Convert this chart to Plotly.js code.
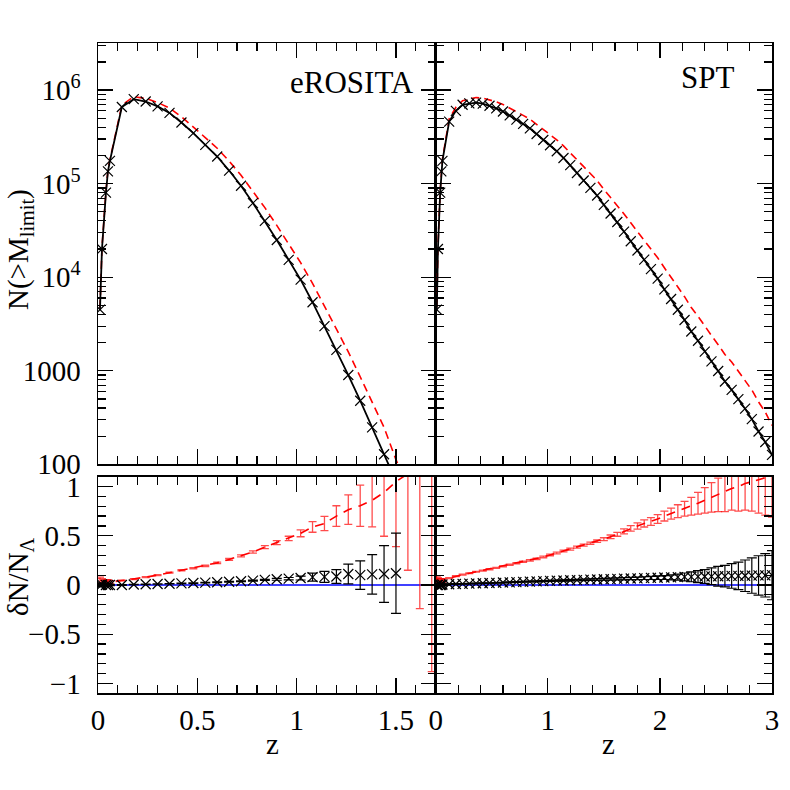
<!DOCTYPE html>
<html>
<head>
<meta charset="utf-8">
<script src="https://cdn.plot.ly/plotly-3.0.1.min.js"></script>
<style>
  body { margin: 0; background: #fff; }
  #graph { width: 790px; height: 790px; }
</style>
</head>
<body>
<div id="graph"></div>
<script>
// eROSITA: cumulative counts per z bin (black = fiducial, red dashed = alternative)
const zEro = [0.01,0.02,0.04,0.05,0.06,0.12,0.18,0.24,0.30,0.36,0.42,0.48,0.54,0.60,0.66,0.72,0.78,0.84,0.90,0.96,1.02,1.08,1.14,1.20,1.26,1.32,1.38,1.44,1.50];
const nEroFid = [4.5e3,2.0e4,8.0e4,1.35e5,1.75e5,6.6e5,8.0e5,7.55e5,6.7e5,5.7e5,4.5e5,3.47e5,2.6e5,1.95e5,1.38e5,9.5e4,6.2e4,4.0e4,2.5e4,1.53e4,9.4e3,5.4e3,3.0e3,1.67e3,900,478,248,128,66];
const zEroAlt = [0.01,0.02,0.04,0.05,0.06,0.12,0.18,0.24,0.30,0.36,0.42,0.48,0.54,0.60,0.66,0.72,0.78,0.84,0.90,0.96,1.02,1.08,1.14,1.20,1.26,1.32,1.38,1.44,1.50,1.56];
const nEroAlt = [4.7e3,2.08e4,8.3e4,1.4e5,1.8e5,6.9e5,8.5e5,8.15e5,7.37e5,6.41e5,5.18e5,4.06e5,3.11e5,2.39e5,1.74e5,1.23e5,8.28e4,5.54e4,3.58e4,2.25e4,1.43e4,8.6e3,4.9e3,2.84e3,1.59e3,863,461,248,112,58];

// eROSITA: relative difference dN/N_Lambda
const dEroFid = [0.0,0.005,0.0,0.0,0.0,0.0,0.005,0.008,0.01,0.013,0.016,0.02,0.024,0.028,0.033,0.038,0.045,0.052,0.058,0.064,0.071,0.08,0.083,0.086,0.112,0.10,0.108,0.112,0.119];
const eEroFid = [0.02,0.015,0.01,0.008,0.006,0.003,0.002,0.002,0.002,0.002,0.003,0.003,0.003,0.004,0.004,0.005,0.005,0.006,0.01,0.012,0.02,0.04,0.056,0.07,0.10,0.145,0.2,0.288,0.407];
const zEroRel = [0.01,0.02,0.04,0.05,0.06,0.12,0.18,0.24,0.30,0.36,0.42,0.48,0.54,0.60,0.66,0.72,0.78,0.84,0.90,0.96,1.02,1.08,1.14,1.20,1.26,1.32,1.38,1.44,1.50,1.56,1.62,1.68];
const dEroAlt = [0.05,0.04,0.035,0.035,0.03,0.045,0.06,0.08,0.10,0.125,0.15,0.17,0.195,0.225,0.26,0.295,0.335,0.385,0.43,0.473,0.525,0.59,0.625,0.70,0.765,0.805,0.86,0.94,1.05,1.13,1.22,1.32];
const eEroAlt = [0.03,0.025,0.02,0.02,0.015,0.004,0.004,0.004,0.005,0.005,0.006,0.006,0.007,0.008,0.009,0.01,0.012,0.015,0.02,0.022,0.035,0.054,0.073,0.105,0.15,0.21,0.27,0.445,0.66,0.98,1.46,2.2];

// SPT
const zSpt = [0.01,0.02,0.04,0.05,0.06,0.12,0.18,0.24,0.30,0.36,0.42,0.48,0.54,0.60,0.66,0.72,0.78,0.84,0.90,0.96,1.02,1.08,1.14,1.20,1.26,1.32,1.38,1.44,1.50,1.56,1.62,1.68,1.74,1.80,1.86,1.92,1.98,2.04,2.10,2.16,2.22,2.28,2.34,2.40,2.46,2.52,2.58,2.64,2.70,2.76,2.82,2.88,2.94,3.00];
const nSptFid = [4.5e3,2.0e4,8.0e4,1.35e5,1.75e5,4.6e5,6.0e5,6.97e5,7.2e5,7.35e5,7.16e5,6.8e5,6.38e5,5.9e5,5.36e5,4.84e5,4.35e5,3.9e5,3.39e5,2.93e5,2.57e5,2.22e5,1.88e5,1.58e5,1.30e5,1.08e5,9.0e4,7.46e4,5.93e4,4.79e4,3.89e4,3.07e4,2.42e4,1.93e4,1.54e4,1.22e4,9.66e3,7.4e3,5.85e3,4.49e3,3.49e3,2.63e3,2.09e3,1.60e3,1.26e3,993,767,624,497,393,304,224,173,126];
const nSptAlt = [4.77e3,2.1e4,8.36e4,1.41e5,1.83e5,4.92e5,6.54e5,7.7e5,8.06e5,8.34e5,8.2e5,7.89e5,7.5e5,7.02e5,6.46e5,5.9e5,5.37e5,4.88e5,4.29e5,3.77e5,3.35e5,2.94e5,2.53e5,2.16e5,1.80e5,1.52e5,1.28e5,1.08e5,8.69e4,7.14e4,5.89e4,4.74e4,3.81e4,3.09e4,2.5e4,2.01e4,1.61e4,1.26e4,1.01e4,7.86e3,6.19e3,4.73e3,3.82e3,2.98e3,2.38e3,1.90e3,1.49e3,1.24e3,994,798,623,464,362,260];
const dSptFid = [0.0,0.0,0.0,0.0,0.005,0.008,0.01,0.012,0.014,0.016,0.018,0.02,0.022,0.025,0.027,0.03,0.032,0.035,0.037,0.04,0.042,0.044,0.046,0.048,0.05,0.052,0.054,0.056,0.058,0.06,0.062,0.064,0.066,0.068,0.07,0.072,0.074,0.076,0.078,0.08,0.082,0.083,0.085,0.086,0.088,0.089,0.09,0.092,0.093,0.094,0.096,0.097,0.098,0.10];
const eSptFid = [0.02,0.015,0.01,0.008,0.006,0.003,0.003,0.003,0.003,0.003,0.003,0.003,0.003,0.003,0.004,0.004,0.004,0.004,0.005,0.005,0.005,0.006,0.006,0.006,0.007,0.007,0.008,0.008,0.009,0.01,0.01,0.011,0.012,0.013,0.014,0.016,0.018,0.02,0.025,0.03,0.04,0.05,0.06,0.07,0.085,0.10,0.11,0.125,0.14,0.16,0.18,0.2,0.22,0.25];
const dSptAlt = [0.06,0.05,0.045,0.045,0.045,0.07,0.09,0.105,0.12,0.135,0.145,0.16,0.175,0.19,0.205,0.22,0.235,0.25,0.265,0.285,0.305,0.325,0.345,0.365,0.385,0.405,0.425,0.445,0.465,0.49,0.515,0.545,0.575,0.60,0.625,0.645,0.67,0.70,0.725,0.75,0.775,0.80,0.83,0.86,0.89,0.915,0.945,0.98,1.0,1.03,1.05,1.07,1.09,1.12];
const eSptAlt = [0.03,0.025,0.02,0.02,0.015,0.004,0.004,0.004,0.004,0.004,0.005,0.005,0.005,0.005,0.006,0.006,0.006,0.007,0.007,0.008,0.008,0.009,0.009,0.01,0.01,0.011,0.011,0.012,0.015,0.018,0.02,0.025,0.028,0.032,0.036,0.04,0.045,0.05,0.055,0.065,0.075,0.09,0.11,0.13,0.15,0.17,0.2,0.22,0.25,0.27,0.3,0.34,0.38,0.43];

// reference line dN = 0
const zLineEro = [0, 1.7];
const zLineSpt = [0, 3];
const dLine = [0, 0];

// axis ticks
const logTicks = [100, 1000, 1e4, 1e5, 1e6];
const logLabels = ['100', '1000', '10<sup>4</sup>', '10<sup>5</sup>', '10<sup>6</sup>'];
const relTicks = [-1, -0.5, 0, 0.5, 1];
const relLabels = ['\u22121', '\u22120.5', '0', '0.5', '1'];
const zTicksEro = [0, 0.5, 1, 1.5];
const zTicksSpt = [0, 1, 2, 3];

const font = { family: 'Liberation Serif', size: 29, color: 'black' };
const black = 'black', red = '#ff0000', blue = '#0000ff';

function axis(extra) {
    return Object.assign({
        showline: true, linecolor: black, linewidth: 1.5, mirror: 'allticks',
        ticks: 'inside', ticklen: 15, tickwidth: 1.2, tickcolor: black,
        showgrid: false, zeroline: false, ticklabelstandoff: 10,
        tickfont: font, tickmode: 'array'
    }, extra);
}
function minor(dtick) {
    return { ticks: 'inside', ticklen: 8, tickwidth: 1.2, tickcolor: black, dtick: dtick, showgrid: false };
}

const xL = [98 / 790, 435.7 / 790], xR = [435.7 / 790, 772 / 790];
const yTop = [1 - 464.3 / 790, 1 - 43.3 / 790], yBot = [1 - 693.3 / 790, 1 - 476.7 / 790];

const markerX = { symbol: 'x-thin', size: 10, color: black, line: { width: 1.2, color: black } };

function panelTop(z, nFid, zAlt, nAlt, xa, ya) {
    return [
        { x: zAlt, y: nAlt, xaxis: xa, yaxis: ya, mode: 'lines',
          line: { color: red, width: 1.6, dash: '8px,5px' } },
        { x: z, y: nFid, xaxis: xa, yaxis: ya, mode: 'lines+markers',
          line: { color: black, width: 1.8 }, marker: markerX }
    ];
}
function panelRel(zl, z, dFid, eFid, zAlt, dAlt, eAlt, xa, ya) {
    return [
        { x: zl, y: dLine, xaxis: xa, yaxis: ya, mode: 'lines', line: { color: blue, width: 1.3 } },
        { x: zAlt, y: dAlt, xaxis: xa, yaxis: ya, mode: 'lines',
          line: { color: red, width: 1.6, dash: '9px,7px' },
          error_y: { type: 'data', array: eAlt, color: 'rgba(255,0,0,0.7)', thickness: 1.3, width: 4 } },
        { x: z, y: dFid, xaxis: xa, yaxis: ya, mode: 'markers', marker: markerX,
          error_y: { type: 'data', array: eFid, color: black, thickness: 1.2, width: 5 } }
    ];
}

const traces = [].concat(
    panelTop(zEro, nEroFid, zEroAlt, nEroAlt, 'x3', 'y3'),
    panelTop(zSpt, nSptFid, zSpt, nSptAlt, 'x4', 'y4'),
    panelRel(zLineEro, zEro, dEroFid, eEroFid, zEroRel, dEroAlt, eEroAlt, 'x', 'y'),
    panelRel(zLineSpt, zSpt, dSptFid, eSptFid, zSpt, dSptAlt, eSptAlt, 'x2', 'y2')
);

function ann(text, x, y, extra) {
    return Object.assign({ text: text, x: x / 790, y: 1 - y / 790, xref: 'paper', yref: 'paper',
        showarrow: false, xanchor: 'center', yanchor: 'middle', font: font }, extra);
}

const layout = {
    width: 790, height: 790,
    margin: { l: 0, r: 0, t: 0, b: 0 },
    paper_bgcolor: 'white', plot_bgcolor: 'white',
    showlegend: false,
    font: font,
    xaxis: axis({ domain: xL, anchor: 'y', range: [0, 1.7], tickvals: zTicksEro, ticktext: zTicksEro.map(String), minor: minor(0.1), ticklabelstandoff: 0 }),
    yaxis: axis({ domain: yBot, anchor: 'x', range: [-1.1, 1.1], tickvals: relTicks, ticktext: relLabels, minor: minor(0.1) }),
    xaxis2: axis({ domain: xR, anchor: 'y2', range: [0, 3], tickvals: zTicksSpt, ticktext: zTicksSpt.map(String), minor: minor(0.2), ticklabelstandoff: 0 }),
    yaxis2: axis({ domain: yBot, anchor: 'x2', range: [-1.1, 1.1], tickvals: relTicks, showticklabels: false, minor: minor(0.1) }),
    xaxis3: axis({ domain: xL, anchor: 'y3', range: [0, 1.7], tickvals: zTicksEro, showticklabels: false, minor: minor(0.1) }),
    yaxis3: axis({ domain: yTop, anchor: 'x3', type: 'log', range: [2, 6.5], tickvals: logTicks, ticktext: logLabels, minor: minor('D1') }),
    xaxis4: axis({ domain: xR, anchor: 'y4', range: [0, 3], tickvals: zTicksSpt, showticklabels: false, minor: minor(0.2) }),
    yaxis4: axis({ domain: yTop, anchor: 'x4', type: 'log', range: [2, 6.5], tickvals: logTicks, showticklabels: false, minor: minor('D1') }),
    annotations: [
        ann('eROSITA', 416, 82, { xanchor: 'right', font: Object.assign({}, font, { size: 31 }) }),
        ann('SPT', 736, 78, { xanchor: 'right', font: Object.assign({}, font, { size: 31 }) }),
        ann('N(&gt;M<sub>limit</sub>)', 20, 250, { textangle: -90 }),
        ann('\u03b4N/N<sub>\u039b</sub>', 20, 577, { textangle: -90 }),
        ann('z', 272, 744),
        ann('z', 608, 744)
    ]
};

Plotly.newPlot('graph', traces, layout, { staticPlot: true });
</script>
</body>
</html>
